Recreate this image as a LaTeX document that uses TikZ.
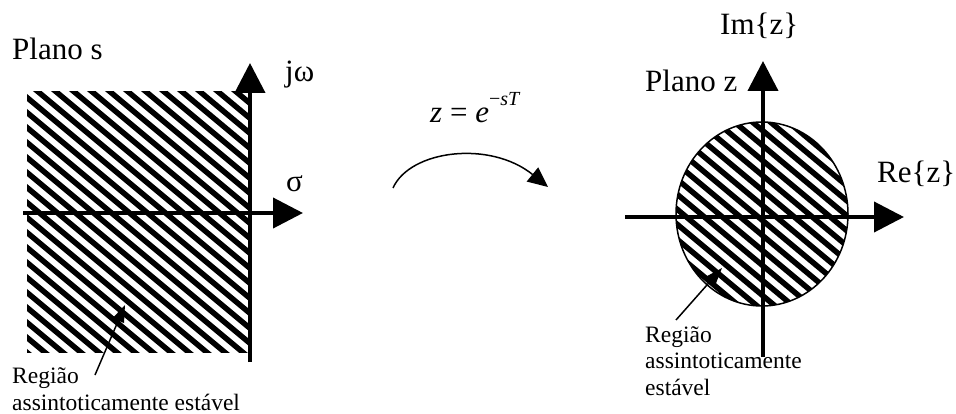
\documentclass[tikz,border=0pt]{standalone}
\usepackage{fontspec}
\setmainfont{Liberation Serif}
\usetikzlibrary{arrows.meta,shapes.geometric}
\begin{document}
\begin{tikzpicture}[x=1pt,y=-1pt,
  axis/.style={line width=4pt,-{Triangle[length=30pt,width=30pt]}},
  hatch/.style={line width=5.5pt},
  big/.style={font=\fontsize{31}{36}\selectfont, inner sep=0pt, anchor=base west},
  small/.style={font=\fontsize{23.5}{26}\selectfont, inner sep=0pt, anchor=base west},
  note/.style={line width=1.5pt,-{Triangle[length=17pt,width=12pt]}},
  map/.style={line width=1.5pt,-{Triangle[length=20pt,width=18pt]}}]
\useasboundingbox (0,0) rectangle (956,414);
% ---------- s plane ----------
\begin{scope}
  \clip (27,92) rectangle (248,352);
  \foreach \c in {-135,-120,...,345} \draw[hatch] (0,\c) -- (300,\c+250);
\end{scope}
\coordinate (sy0) at (250,362);
\coordinate (sy1) at (250,63);
\coordinate (sx0) at (23,213);
\coordinate (sx1) at (303,213);
\draw[axis] (sy0) -- (sy1);
\draw[axis] (sx0) -- (sx1);
\node[big] (ps) at (12,60) {Plano s};
\node[big] (jw) at (285,82) {jω};
\node[big] (sg) at (286,192) {σ};
\node[small] (rl1) at (12,383) {Região};
\node[small] (rl2) at (12,410) {assintoticamente estável};
\coordinate (la0) at (95,375);
\coordinate (la1) at (125,305);
\draw[note] (la0) -- (la1);
% ---------- mapping ----------
\node[big] (fm) at (430,123) {\textit{z} = \textit{e}\raisebox{0.55em}{\fontsize{20}{24}\selectfont −\textit{sT}}};
\coordinate (m0) at (393,188);
\coordinate (m1) at (548,187);
\draw[map] (m0) .. controls (410,150) and (490,140) .. (m1);
% ---------- z plane ----------
\begin{scope}
  \clip (762,214) ellipse [x radius=86, y radius=92];
  \foreach \c in {-60,-45,...,330} \draw[hatch] (660,\c) -- (860,\c+166.7);
\end{scope}
\node[draw, ellipse, line width=1.5pt, inner sep=0pt, minimum width=172pt, minimum height=184pt] (zc) at (762,214) {};
\coordinate (zy0) at (763,357);
\coordinate (zy1) at (763,61);
\coordinate (zx0) at (625,217);
\coordinate (zx1) at (904,217);
\draw[axis] (zy0) -- (zy1);
\draw[axis] (zx0) -- (zx1);
\node[big] (im) at (720,35) {Im\{z\}};
\node[big] (pz) at (645,92) {Plano z};
\node[big] (re) at (877,183) {Re\{z\}};
\node[small] (rr1) at (645,342) {Região};
\node[small] (rr2) at (645,368) {assintoticamente};
\node[small] (rr3) at (645,395) {estável};
\coordinate (ra0) at (676,320);
\coordinate (ra1) at (722,268);
\draw[note] (ra0) -- (ra1);
\end{tikzpicture}
\end{document}
